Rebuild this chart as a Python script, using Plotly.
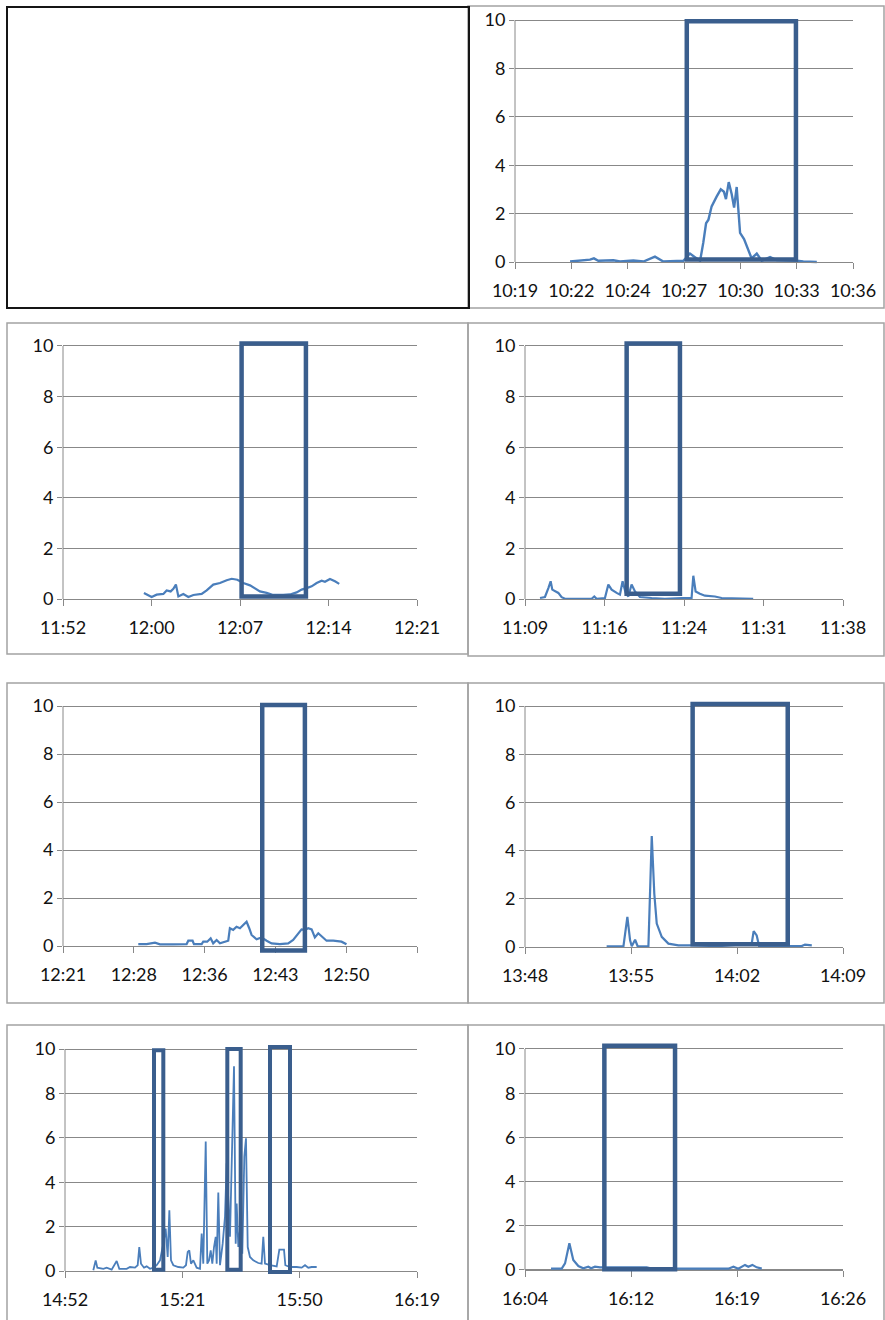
import numpy as np
import plotly.graph_objects as go

W, H = 885, 1320

# ---------------- data (times = minutes past the panel's base hour) ----------------
# Panel A: 10:19 - 10:36  (base hour 10)
a_t = [21.77, 22.44, 22.77, 22.97, 23.19, 23.95, 24.28, 24.95, 25.46, 26.04, 26.29, 26.46,
       27.47, 27.8, 28.05, 28.31, 28.47, 28.61, 28.73, 28.89, 29.14, 29.35, 29.51, 29.61,
       29.75, 29.9, 30.02, 30.15, 30.23, 30.32, 30.52, 30.69, 30.9, 31.16, 31.41, 31.83,
       32.16, 33.17, 33.5, 34.18]
a_v = [0.02, 0.08, 0.1, 0.15, 0.05, 0.07, 0.02, 0.06, 0.02, 0.22, 0.12, 0.02,
       0.05, 0.35, 0.2, 0.05, 0.8, 1.6, 1.75, 2.3, 2.7, 3.0, 2.9, 2.6,
       3.3, 2.8, 2.25, 3.1, 2.2, 1.2, 0.95, 0.6, 0.15, 0.35, 0.05, 0.2,
       0.08, 0.05, 0.02, 0.0]
a_ticks = ["10:19", "10:22", "10:24", "10:27", "10:30", "10:33", "10:36"]
a_range = [19, 36]
a_boxes = [(27.64, 33.13, 0.1, 9.95)]

# Panel B: 11:52 - 12:21 (base hour 11)
b_t = [58.63, 59.26, 59.67, 60.22, 60.49, 60.82, 61.04, 61.25, 61.45, 61.86, 62.27, 62.68,
       63.36, 63.77, 64.31, 64.86, 65.41, 65.82, 66.28, 66.77, 67.32, 67.72, 68.13, 68.68,
       69.22, 70.04, 70.59, 71.14, 71.55, 71.96, 72.37, 72.78, 73.19, 73.46, 73.87, 74.28, 74.63]
b_v = [0.24, 0.08, 0.17, 0.2, 0.34, 0.3, 0.4, 0.57, 0.1, 0.2, 0.08, 0.16,
       0.2, 0.34, 0.57, 0.63, 0.74, 0.8, 0.76, 0.63, 0.54, 0.43, 0.3, 0.24,
       0.16, 0.16, 0.18, 0.26, 0.37, 0.43, 0.5, 0.63, 0.72, 0.68, 0.79, 0.7, 0.6]
b_ticks = ["11:52", "12:00", "12:07", "12:14", "12:21"]
b_range = [52, 81]
b_boxes = [(66.63, 71.9, 0.1, 10.1)]

# Panel C: 11:09 - 11:38 (base hour 11)
c_t = [10.37, 10.82, 11.13, 11.34, 11.49, 11.73, 12.04, 12.34, 12.65, 15.08, 15.32, 15.53,
       16.29, 16.6, 16.9, 17.36, 17.66, 17.9, 18.18, 18.42, 18.72, 19.03, 19.48, 20.55,
       21.76, 23.28, 24.19, 24.35, 24.56, 24.95, 25.41, 26.32, 26.93, 29.81]
c_v = [0.04, 0.08, 0.43, 0.7, 0.37, 0.3, 0.24, 0.07, 0.01, 0.01, 0.1, 0.01,
       0.04, 0.57, 0.37, 0.24, 0.17, 0.7, 0.24, 0.1, 0.57, 0.3, 0.08, 0.04,
       0.01, 0.04, 0.04, 0.92, 0.3, 0.21, 0.13, 0.1, 0.04, 0.01]
c_ticks = ["11:09", "11:16", "11:24", "11:31", "11:38"]
c_range = [9, 38]
c_boxes = [(18.27, 23.13, 0.21, 10.1)]

# Panel D: 12:21 - 12:57 (base hour 12)
d_t = [28.71, 29.56, 30.42, 30.93, 32.29, 33.66, 33.83, 34.27, 34.41, 35.2, 35.36, 35.77,
       36.12, 36.38, 36.73, 37.07, 37.92, 38.09, 38.43, 38.77, 39.12, 39.46, 39.8, 40.07,
       40.31, 40.82, 41.33, 41.85, 42.36, 43.21, 44.06, 44.57, 45.08, 45.43, 45.77, 46.11,
       46.46, 46.79, 47.14, 47.48, 47.99, 48.67, 49.52, 50.03]
d_v = [0.08, 0.08, 0.14, 0.07, 0.07, 0.08, 0.22, 0.22, 0.08, 0.08, 0.18, 0.18,
       0.32, 0.11, 0.25, 0.11, 0.22, 0.74, 0.67, 0.8, 0.74, 0.88, 1.01, 0.74,
       0.46, 0.28, 0.36, 0.22, 0.11, 0.08, 0.11, 0.25, 0.53, 0.69, 0.67, 0.74,
       0.69, 0.36, 0.53, 0.42, 0.22, 0.22, 0.18, 0.07]
d_ticks = ["12:21", "12:28", "12:36", "12:43", "12:50", ""]
d_range = [21, 57.25]
d_boxes = [(41.4, 45.77, -0.19, 10.04)]

# Panel E: 13:48 - 14:09 (base hour 13)
e_t = [53.39, 54.5, 54.76, 54.94, 55.05, 55.27, 55.44, 56.15, 56.37, 56.54, 56.7, 57.03,
       57.47, 58.13, 59.01, 60.77, 62.97, 63.1, 63.3, 63.46, 64.95, 66.27, 66.49, 66.94]
e_v = [0.03, 0.03, 1.25, 0.28, 0.03, 0.3, 0.03, 0.03, 4.6, 2.2, 0.97, 0.42,
       0.14, 0.07, 0.07, 0.04, 0.14, 0.66, 0.48, 0.04, 0.04, 0.04, 0.1, 0.07]
e_ticks = ["13:48", "13:55", "14:02", "14:09"]
e_range = [48, 69]
e_boxes = [(59.07, 65.35, 0.11, 10.08)]

# Panel F: 14:52 - 16:19 (base hour 14)
f_t = [59.0, 59.58, 59.99, 61.47, 62.3, 63.53, 64.77, 65.42, 67.24, 68.07, 69.3, 69.96,
       70.36, 70.78, 71.53, 72.19, 73.01, 73.83, 74.66, 75.48, 76.3, 76.88, 77.38, 77.79,
       78.2, 78.78, 80.0, 81.25, 81.9, 82.33, 82.72, 83.14, 83.72, 84.54, 85.37, 85.78,
       86.18, 86.78, 87.17, 87.59, 88.01, 88.41, 88.83, 89.25, 89.49, 89.89, 90.31, 90.97,
       91.54, 91.96, 92.78, 93.35, 93.77, 94.19, 94.43, 94.84, 95.25, 95.82, 96.32, 96.73,
       97.16, 97.72, 98.54, 99.78, 100.6, 101.01, 101.43, 102.67, 104.32, 104.97, 106.13,
       106.46, 107.61, 109.27, 110.5, 111.32, 112.13, 112.97, 114.21]
f_v = [0.03, 0.48, 0.15, 0.1, 0.15, 0.06, 0.45, 0.1, 0.1, 0.18, 0.15, 0.26,
       1.08, 0.33, 0.15, 0.21, 0.1, 0.15, 0.26, 0.48, 1.23, 1.91, 0.63, 2.74,
       0.48, 0.26, 0.18, 0.15, 0.26, 0.86, 0.93, 0.33, 0.48, 0.15, 0.1, 1.69,
       0.33, 5.83, 0.33, 0.48, 0.93, 0.33, 1.08, 1.54, 0.33, 3.54, 0.26, 1.23,
       2.44, 4.85, 1.54, 6.36, 9.22, 1.23, 3.04, 1.08, 1.84, 0.78, 5.15, 5.98,
       1.08, 0.63, 0.48, 0.36, 0.33, 1.54, 0.33, 0.26, 0.21, 0.96, 0.96,
       0.26, 0.18, 0.18, 0.15, 0.26, 0.15, 0.18, 0.18]
f_ticks = ["14:52", "15:21", "15:50", "16:19"]
f_range = [52, 139]
f_boxes = [(74.0, 76.3, 0.06, 9.94), (92.12, 95.42, 0.06, 10.0), (102.67, 107.61, -0.05, 10.09)]

# Panel G: 16:04 - 16:26 (base hour 16)
g_t = [5.8, 6.54, 6.77, 7.07, 7.34, 7.69, 8.03, 8.38, 8.57, 8.84, 9.19, 9.54,
       11.38, 12.42, 12.77, 15.99, 18.07, 18.42, 18.76, 19.22, 19.45, 19.73, 20.03, 20.38]
g_v = [0.06, 0.06, 0.3, 1.21, 0.45, 0.18, 0.08, 0.15, 0.08, 0.15, 0.12, 0.12,
       0.12, 0.12, 0.06, 0.06, 0.06, 0.15, 0.06, 0.23, 0.15, 0.23, 0.12, 0.06]
g_ticks = ["16:04", "16:12", "16:19", "16:26"]
g_range = [4, 26]
g_boxes = [(9.49, 14.38, 0.03, 10.15)]

y_ticks = [0, 2, 4, 6, 8, 10]

# ---------------- layout geometry (pixels) ----------------
# (left, right, y_at_10, y_at_0) of each plot area
panels = [
    (a_t, a_v, a_ticks, a_range, a_boxes, (515, 853, 20, 262), 2.4),
    (b_t, b_v, b_ticks, b_range, b_boxes, (63, 417, 346, 599), 2.2),
    (c_t, c_v, c_ticks, c_range, c_boxes, (525, 843, 346, 599), 2.2),
    (d_t, d_v, d_ticks, d_range, d_boxes, (63, 417, 706, 946), 2.2),
    (e_t, e_v, e_ticks, e_range, e_boxes, (525, 843, 706, 947), 2.2),
    (f_t, f_v, f_ticks, f_range, f_boxes, (65, 417, 1049, 1271), 1.8),
    (g_t, g_v, g_ticks, g_range, g_boxes, (525, 843, 1049, 1270), 2.2),
]

LINE = "#4A7EBB"
BOX = "#3A5E8D"
GRID = "#888888"
FRAME = "#A3A3A3"
FONT = dict(family="Lato, Open Sans, sans-serif", size=18, color="#111111")
PAD = 0.45


def fx(px):
    return px / W


def fy(py):
    return 1 - py / H


fig = go.Figure()
layout = dict(template="none", width=W, height=H, autosize=False,
              margin=dict(l=0, r=0, t=0, b=0, pad=0),
              paper_bgcolor="white", plot_bgcolor="rgba(0,0,0,0)",
              showlegend=False, font=FONT)
shapes = []

for i, (t, v, ticks, rng, boxes, (left, right, top, bot), lw) in enumerate(panels, start=1):
    xa = "x" if i == 1 else f"x{i}"
    ya = "y" if i == 1 else f"y{i}"
    xk = "xaxis" if i == 1 else f"xaxis{i}"
    yk = "yaxis" if i == 1 else f"yaxis{i}"
    s = (bot - top) / 10.0
    fig.add_trace(go.Scatter(x=t, y=v, mode="lines", xaxis=xa, yaxis=ya,
                             line=dict(color=LINE, width=lw), hoverinfo="skip"))
    tv = list(np.linspace(rng[0], rng[1], len(ticks)))
    layout[xk] = dict(domain=[fx(left), fx(right)], range=rng, anchor="free",
                      position=fy(bot), tickmode="array", tickvals=tv, ticktext=ticks,
                      showline=True, linecolor=GRID, linewidth=1, ticks="outside",
                      ticklen=6, tickcolor=GRID, tickwidth=1, showgrid=False,
                      zeroline=False, tickfont=FONT, ticklabelstandoff=6,
                      automargin=False, fixedrange=True)
    layout[yk] = dict(domain=[fy(bot + PAD * s), fy(top - PAD * s)], range=[-PAD, 10 + PAD],
                      anchor=xa, tickmode="array", tickvals=y_ticks,
                      showgrid=True, gridcolor=GRID, gridwidth=1, zeroline=False,
                      showline=False, ticks="outside", ticklen=5, tickcolor=GRID,
                      tickwidth=1, tickfont=FONT, automargin=False, fixedrange=True)
    # y axis line (0..10)
    shapes.append(dict(type="line", xref="paper", yref="paper", x0=fx(left), x1=fx(left),
                       y0=fy(bot), y1=fy(top), line=dict(color=GRID, width=1)))
    for (b0, b1, lo, hi) in boxes:
        shapes.append(dict(type="rect", xref=xa, yref=ya, x0=b0, x1=b1, y0=lo, y1=hi,
                           line=dict(color=BOX, width=4.5 if i != 6 else 4),
                           fillcolor="rgba(0,0,0,0)", layer="above"))

# panel frames
frames = [
    (468, 884, 6, 308),
    (7, 468, 323, 654),
    (468, 884, 323, 656),
    (7, 468, 683, 1003),
    (468, 884, 683, 1003),
    (7, 468, 1025, 1330),
    (468, 884, 1025, 1330),
]
for (l, r, t_, b_) in frames:
    shapes.append(dict(type="rect", xref="paper", yref="paper", x0=fx(l), x1=fx(r),
                       y0=fy(b_), y1=fy(t_), line=dict(color=FRAME, width=1.5),
                       fillcolor="rgba(0,0,0,0)", layer="below"))
# empty black-framed box at top-left
shapes.append(dict(type="rect", xref="paper", yref="paper", x0=fx(7), x1=fx(469),
                   y0=fy(308), y1=fy(7), line=dict(color="#151515", width=2),
                   fillcolor="rgba(0,0,0,0)", layer="above"))

layout["shapes"] = shapes
fig.update_layout(**layout)
fig.write_html("out.html")
